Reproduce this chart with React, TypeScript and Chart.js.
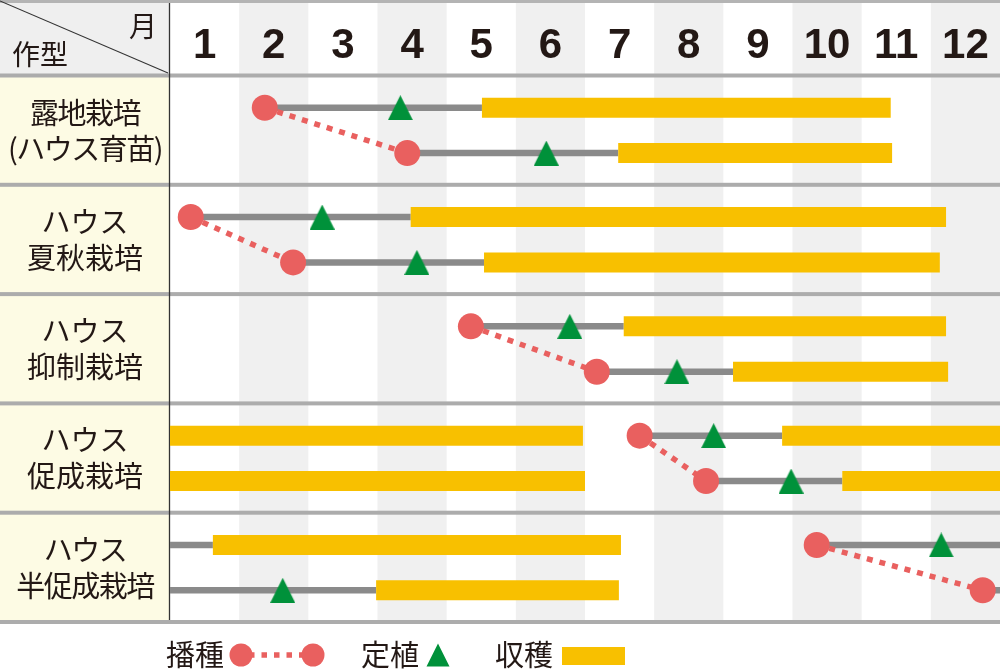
import React, { useEffect, useRef } from 'react';
import { Chart, registerables } from 'chart.js';

Chart.register(...registerables);

// ---------------- data ----------------
const months = ['1', '2', '3', '4', '5', '6', '7', '8', '9', '10', '11', '12'];
const headerMonth = '月';
const headerType = '作型';
const cropTypes: string[][] = [
  ['露地栽培', '(ハウス育苗)'],
  ['ハウス', '夏秋栽培'],
  ['ハウス', '抑制栽培'],
  ['ハウス', '促成栽培'],
  ['ハウス', '半促成栽培'],
];
// two lanes per crop type
const laneCrop = [0, 0, 1, 1, 2, 2, 3, 3, 4, 4];
// month positions (0 = start of Jan, 12 = end of Dec)
const sowing = [1.37, 3.43, 0.3, 1.78, 4.35, 6.17, 6.79, 7.75, 9.35, 11.75];
const planting = [3.33, 5.44, 2.2, 3.57, 5.78, 7.33, 7.86, 8.98, 11.15, 1.63];
const growthSegments: number[][][] = [
  [[1.37, 4.51]],
  [[3.43, 6.48]],
  [[0.3, 3.48]],
  [[1.78, 4.54]],
  [[4.35, 6.56]],
  [[6.17, 8.14]],
  [[6.79, 8.85]],
  [[7.75, 9.72]],
  [[0, 0.62], [9.35, 12]],
  [[0, 2.98], [11.75, 12]],
];
const harvestSegments: number[][][] = [
  [[4.51, 10.42]],
  [[6.48, 10.44]],
  [[3.48, 11.22]],
  [[4.54, 11.13]],
  [[6.56, 11.22]],
  [[8.14, 11.25]],
  [[0, 5.97], [8.85, 12]],
  [[0, 6.0], [9.72, 12]],
  [[0.62, 6.52]],
  [[2.98, 6.49]],
];
const legendLabels = ['播種', '定植', '収穫'];

// ---------------- styling ----------------
const LANE_OFFSETS = [0.295, 0.71];
const RED = '#e9605f';
const GREEN = '#00913a';
const YELLOW = '#f8c000';
const LINE_GRAY = '#8a8a8a';
const COL_GRAY = '#f0f0f0';
const SEP_GRAY = '#acacac';
const LABEL_BG = '#fdfbe4';
const HEAD_BG = '#efefef';
const TEXT = '#231815';
const JP_FONT = '"Noto Sans CJK JP", "Noto Sans", sans-serif';
const NUM_FONT = '"Liberation Sans", Arial, sans-serif';

const laneY = (i: number) => laneCrop[i] + LANE_OFFSETS[i % 2];

function makeTriangle(w: number, h: number, color: string) {
  const c = document.createElement('canvas');
  c.width = w;
  c.height = h;
  const ctx = c.getContext('2d')!;
  ctx.fillStyle = color;
  ctx.beginPath();
  ctx.moveTo(w / 2, 0);
  ctx.lineTo(w, h);
  ctx.lineTo(0, h);
  ctx.closePath();
  ctx.fill();
  return c;
}

const gridPlugin = {
  id: 'cropGrid',
  beforeDraw(chart: any) {
    const { ctx, scales } = chart;
    const xs = scales.x;
    const ys = scales.y;
    const W = chart.width;
    const top = 3;
    const bottom = ys.getPixelForValue(cropTypes.length);
    const left = xs.getPixelForValue(0);
    ctx.save();
    ctx.fillStyle = '#ffffff';
    ctx.fillRect(0, 0, W, chart.height);
    // top rule
    ctx.fillStyle = '#b4b4b4';
    ctx.fillRect(0, 0, W, 3);
    // column shading
    months.forEach((_, m) => {
      if (m % 2 === 1) {
        const x0 = xs.getPixelForValue(m);
        const x1 = xs.getPixelForValue(m + 1);
        ctx.fillStyle = COL_GRAY;
        ctx.fillRect(x0, top, x1 - x0, bottom - top);
      }
    });
    // header left cell
    const headBottom = ys.getPixelForValue(0);
    ctx.fillStyle = HEAD_BG;
    ctx.fillRect(0, top, left, headBottom - top);
    // label column
    ctx.fillStyle = LABEL_BG;
    ctx.fillRect(0, headBottom, left, bottom - headBottom);
    // separators
    ctx.fillStyle = SEP_GRAY;
    for (let r = 0; r <= cropTypes.length; r++) {
      const y = ys.getPixelForValue(r);
      ctx.fillRect(0, y - 2, W, 4);
    }
    // vertical rule
    ctx.strokeStyle = '#333333';
    ctx.lineWidth = 1.3;
    ctx.beginPath();
    ctx.moveTo(left - 0.5, top);
    ctx.lineTo(left - 0.5, bottom - 2);
    ctx.stroke();
    // diagonal
    ctx.lineWidth = 1.1;
    ctx.beginPath();
    ctx.moveTo(0, 1);
    ctx.lineTo(left - 2, headBottom - 2.5);
    ctx.stroke();
    // header texts
    ctx.fillStyle = TEXT;
    ctx.textAlign = 'center';
    ctx.textBaseline = 'middle';
    ctx.font = `28px ${JP_FONT}`;
    ctx.fillText(headerMonth, 143, 26);
    ctx.fillText(headerType, 40, 54);
    // month numbers
    ctx.font = `bold 42px ${NUM_FONT}`;
    ctx.textBaseline = 'alphabetic';
    months.forEach((lab, m) => {
      const x = xs.getPixelForValue(m + 0.5);
      ctx.fillText(lab, x, 57.5);
    });
    // crop type labels
    ctx.font = `29px ${JP_FONT}`;
    ctx.textBaseline = 'middle';
    cropTypes.forEach((lines, r) => {
      const y0 = ys.getPixelForValue(r);
      (ctx as any).letterSpacing = lines[1].length >= 5 ? '-1.5px' : '0px';
      ctx.fillText(lines[0], 85, y0 + 37);
      ctx.fillText(lines[1], 85, y0 + 73);
    });
    (ctx as any).letterSpacing = '0px';
    // legend
    const ly = 655;
    ctx.font = `29px ${JP_FONT}`;
    ctx.fillText(legendLabels[0], 195, ly);
    ctx.fillText(legendLabels[1], 390, ly);
    ctx.fillText(legendLabels[2], 524, ly);
    ctx.strokeStyle = RED;
    ctx.lineWidth = 5.5;
    ctx.setLineDash([5.5, 7]);
    ctx.beginPath();
    ctx.moveTo(249, ly);
    ctx.lineTo(305, ly);
    ctx.stroke();
    ctx.setLineDash([]);
    ctx.fillStyle = RED;
    [241, 313].forEach((cx) => {
      ctx.beginPath();
      ctx.arc(cx, ly, 11.5, 0, Math.PI * 2);
      ctx.fill();
    });
    ctx.fillStyle = GREEN;
    ctx.beginPath();
    ctx.moveTo(438, ly - 11.5);
    ctx.lineTo(449.5, ly + 11.5);
    ctx.lineTo(426.5, ly + 11.5);
    ctx.closePath();
    ctx.fill();
    ctx.fillStyle = YELLOW;
    ctx.fillRect(562, 647, 63, 18);
    ctx.restore();
  },
};

export default function App() {
  const ref = useRef<HTMLCanvasElement | null>(null);
  useEffect(() => {
    if (!ref.current) return;
    const tri = makeTriangle(25, 25, GREEN);
    const datasets: any[] = [];
    // planting triangles (top)
    datasets.push({
      label: '定植',
      data: planting.map((x, i) => ({ x, y: laneY(i) })),
      pointStyle: tri,
      pointRadius: 12,
      showLine: false,
    });
    // sowing circles
    datasets.push({
      label: '播種',
      data: sowing.map((x, i) => ({ x, y: laneY(i) })),
      pointStyle: 'circle',
      pointRadius: 13,
      pointBackgroundColor: RED,
      pointBorderWidth: 0,
      showLine: false,
    });
    // dotted connectors between sowing of the two lanes
    cropTypes.forEach((_, r) => {
      const a = r * 2;
      const b = r * 2 + 1;
      datasets.push({
        label: 'connector',
        data: [
          { x: sowing[a], y: laneY(a) },
          { x: sowing[b], y: laneY(b) },
        ],
        showLine: true,
        borderColor: RED,
        borderWidth: 5.5,
        borderDash: [6, 7],
        borderCapStyle: 'butt',
        pointRadius: 0,
      });
    });
    // harvest bars
    harvestSegments.forEach((segs, i) => {
      segs.forEach((s) => {
        datasets.push({
          label: '収穫',
          data: [
            { x: s[0], y: laneY(i) },
            { x: s[1], y: laneY(i) },
          ],
          showLine: true,
          borderColor: YELLOW,
          borderWidth: 20,
          borderCapStyle: 'butt',
          pointRadius: 0,
        });
      });
    });
    // growth lines
    growthSegments.forEach((segs, i) => {
      segs.forEach((s) => {
        datasets.push({
          label: 'growth',
          data: [
            { x: s[0], y: laneY(i) },
            { x: s[1], y: laneY(i) },
          ],
          showLine: true,
          borderColor: LINE_GRAY,
          borderWidth: 6.5,
          borderCapStyle: 'butt',
          pointRadius: 0,
        });
      });
    });

    const chart = new Chart(ref.current, {
      type: 'scatter',
      data: { datasets },
      options: {
        responsive: false,
        animation: false,
        events: [],
        devicePixelRatio: 1,
        layout: { autoPadding: false, padding: { left: 170, top: 75.5, right: 0, bottom: 50 } },
        plugins: { legend: { display: false }, tooltip: { enabled: false } },
        scales: {
          x: { type: 'linear', min: 0, max: 12, display: false },
          y: { type: 'linear', min: 0, max: cropTypes.length, reverse: true, display: false },
        },
      },
      plugins: [gridPlugin],
    } as any);
    return () => chart.destroy();
  }, []);
  return (
    <div style={{ position: 'absolute', left: 0, top: 0, width: 1000, height: 672 }}>
      <canvas ref={ref} width={1000} height={672} />
    </div>
  );
}
